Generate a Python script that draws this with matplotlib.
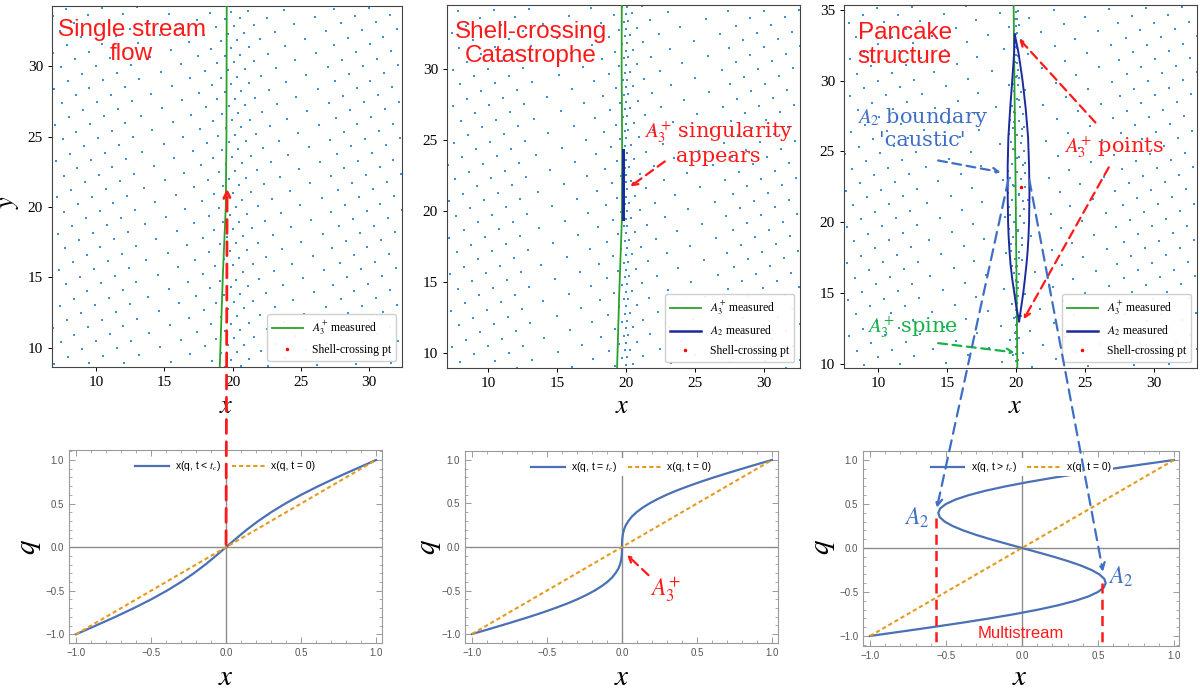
import numpy as np
import matplotlib
matplotlib.use("Agg")
import matplotlib.pyplot as plt
from matplotlib.lines import Line2D
from matplotlib.patches import ConnectionPatch
from matplotlib.ticker import MultipleLocator, FuncFormatter

plt.rcParams["mathtext.fontset"] = "stix"
plt.rcParams["font.family"] = ["Liberation Serif", "DejaVu Serif"]

W, H = 1200, 689

RED = "#ff1a1a"
BLUE_TXT = "#3f6fc4"
GREEN_TXT = "#18b04a"
GREEN = "#2ca02c"
NAVY = "#1c2a9c"
DOT = "#3d8fd6"
CURVE = "#4a70b5"
ORANGE = "#e39b1f"

# ---- bottom row: Lagrangian q against Eulerian x ----
Q_INIT = [-1.0, 1.0]
X_INIT = [-1.0, 1.0]

Q_BEFORE = [-1.0, -0.9, -0.8, -0.7, -0.6, -0.5, -0.4, -0.3, -0.2, -0.1, 0.0,
            0.1, 0.2, 0.3, 0.4, 0.5, 0.6, 0.7, 0.8, 0.9, 1.0]
X_BEFORE = [-1.0, -0.868, -0.738, -0.615, -0.5, -0.395, -0.3, -0.215, -0.138, -0.068, 0.0,
            0.068, 0.138, 0.215, 0.3, 0.395, 0.5, 0.615, 0.738, 0.868, 1.0]

Q_CRIT = [-1.0, -0.95, -0.9, -0.85, -0.8, -0.75, -0.7, -0.65, -0.6, -0.55, -0.5,
          -0.45, -0.4, -0.35, -0.3, -0.25, -0.2, -0.15, -0.1, -0.05, 0.0,
          0.05, 0.1, 0.15, 0.2, 0.25, 0.3, 0.35, 0.4, 0.45, 0.5,
          0.55, 0.6, 0.65, 0.7, 0.75, 0.8, 0.85, 0.9, 0.95, 1.0]
X_CRIT = [-1.0, -0.9, -0.802, -0.706, -0.613, -0.525, -0.443, -0.366, -0.297, -0.236, -0.182,
          -0.136, -0.097, -0.066, -0.043, -0.025, -0.013, -0.006, -0.002, -0.0002, 0.0,
          0.0002, 0.002, 0.006, 0.013, 0.025, 0.043, 0.066, 0.097, 0.136, 0.182,
          0.236, 0.297, 0.366, 0.443, 0.525, 0.613, 0.706, 0.802, 0.9, 1.0]

Q_AFTER = Q_CRIT
X_AFTER = [-1.0, -0.794, -0.591, -0.396, -0.212, -0.043, 0.109, 0.241, 0.351, 0.438, 0.5,
           0.538, 0.551, 0.541, 0.509, 0.457, 0.388, 0.304, 0.209, 0.106, 0.0,
           -0.106, -0.209, -0.304, -0.388, -0.457, -0.509, -0.541, -0.551, -0.538, -0.5,
           -0.438, -0.351, -0.241, -0.109, 0.043, 0.212, 0.396, 0.591, 0.794, 1.0]

# ---- top row: measured lines ----
SPINE1_X = [19.06, 19.28, 19.5, 19.55, 19.57]
SPINE1_Y = [8.65, 15.0, 20.0, 25.0, 34.3]
SPINE2_X = [19.35, 19.5, 19.7, 19.72, 19.68, 19.69]
SPINE2_Y = [8.94, 14.0, 19.5, 24.0, 30.0, 34.5]
SPINE3_X = [20.07, 20.02, 19.95, 19.86, 19.8]
SPINE3_Y = [9.7, 15.0, 22.0, 30.0, 35.35]
A2_SEG_X = [19.78, 19.78]
A2_SEG_Y = [19.4, 24.3]
LENS_Y = [13.0, 14, 15, 16, 17, 18, 19, 20, 22, 24, 26, 28, 30, 32, 33.3]
LENS_LEFT = [20.2, 20.0, 19.85, 19.7, 19.58, 19.5, 19.44, 19.4, 19.37, 19.37, 19.42, 19.55, 19.7, 19.84, 19.88]
LENS_RIGHT = [20.2, 20.35, 20.5, 20.62, 20.73, 20.82, 20.88, 20.92, 20.95, 20.92, 20.85, 20.68, 20.45, 20.15, 19.88]
SHELL_PT = (20.36, 22.5)

# strength of the fold along y for the pancake panel
ENV_Y = [0, 13.0, 18.0, 23.0, 28.0, 33.3, 40]
ENV_V = [0.2, 0.32, 0.6, 0.7, 0.6, 0.32, 0.2]
FLAT_Y = [0, 40]

SPACING = 1.15
ANGLE = np.deg2rad(28)


def px_axes(fig, l, t, r, b):
    return fig.add_axes([l / W, 1 - b / H, (r - l) / W, (b - t) / H])


def push(u, y, q_curve, x_curve, width, env_v, env_y=FLAT_Y):
    # move lateral offsets u through a q -> x map of the given half-width
    qn = np.clip(u / width, -1, 1)
    env = np.interp(y, env_y, env_v)
    return u + (np.interp(qn, q_curve, x_curve) - qn) * env * width


def lattice():
    idx = np.arange(-32, 33)
    i, j = np.meshgrid(idx, idx)
    u = SPACING * (i * np.cos(ANGLE) - j * np.sin(ANGLE))
    y = 21 + SPACING * (i * np.sin(ANGLE) + j * np.cos(ANGLE))
    return u.ravel(), y.ravel()


def draw_dots(ax, u, y):
    ax.scatter(20 + u, y, s=1.7, marker="s", c=DOT, linewidths=0, zorder=1)


def style_top(ax, xlim, ylim, yticks):
    ax.set_xlim(*xlim)
    ax.set_ylim(*ylim)
    ax.set_xticks([10, 15, 20, 25, 30])
    ax.set_yticks(yticks)
    ax.tick_params(labelsize=11, length=3, width=0.7)
    for s in ax.spines.values():
        s.set_color("#444444")
        s.set_linewidth(0.8)


def top_legend(ax, with_a2=True):
    handles = [Line2D([], [], color=GREEN, lw=1.3, label="$A_3^{+}$ measured")]
    if with_a2:
        handles.append(Line2D([], [], color=NAVY, lw=1.8, label="$A_2$ measured"))
    handles.append(Line2D([], [], ls="none", marker=".", ms=3, color="red",
                          label="Shell-crossing pt"))
    ax.legend(handles=handles, loc="lower right", prop={"family": "Liberation Serif", "size": 8.5},
              framealpha=0.92, edgecolor="#cccccc", handlelength=2.6, labelspacing=0.6)


def style_bottom(ax, xlim, ylim):
    ax.set_xlim(*xlim)
    ax.set_ylim(*ylim)
    ticks = [-1.0, -0.5, 0.0, 0.5, 1.0]
    ax.set_xticks(ticks)
    ax.set_yticks(ticks)
    ax.xaxis.set_minor_locator(MultipleLocator(0.1))
    ax.yaxis.set_minor_locator(MultipleLocator(0.1))
    fmt = FuncFormatter(lambda v, _: f"{v:.1f}".replace("-", "\u2212"))
    ax.xaxis.set_major_formatter(fmt)
    ax.yaxis.set_major_formatter(fmt)
    ax.tick_params(which="both", direction="in", top=True, right=True, color="#8a8a8a",
                   labelsize=7, labelcolor="#555555")
    ax.tick_params(which="major", length=4, width=0.6)
    ax.tick_params(which="minor", length=2, width=0.5)
    for lab in ax.get_xticklabels() + ax.get_yticklabels():
        lab.set_family("Liberation Sans")
    for s in ax.spines.values():
        s.set_color("#9a9a9a")
        s.set_linewidth(0.8)
    ax.axhline(0, color="#8c8c8c", lw=1.0, zorder=1)
    ax.axvline(0, color="#8c8c8c", lw=1.0, zorder=1)


def bottom_curves(ax, q, x, label):
    ax.plot(x, q, color=CURVE, lw=1.6, zorder=2, label=label)
    ax.plot(X_INIT, Q_INIT, color=ORANGE, lw=1.5, ls=(0, (2, 1.4)), zorder=2,
            label="x(q, t = 0)")
    leg = ax.legend(loc="upper center", bbox_to_anchor=(0.5, 0.99), ncol=2, frameon=True,
                    facecolor="white", edgecolor="none", framealpha=1,
                    prop={"family": "Liberation Sans", "size": 7.5}, handlelength=3.2,
                    columnspacing=1.0, borderpad=0.2, handletextpad=0.6)
    leg.set_zorder(5)


fig = plt.figure(figsize=(W / 100, H / 100), dpi=100)
fig.patch.set_facecolor("white")

ax1 = px_axes(fig, 52, 6, 402, 367)
ax2 = px_axes(fig, 447, 5, 800, 368)
ax3 = px_axes(fig, 844, 5, 1197, 368)
ax4 = px_axes(fig, 69, 450, 382, 643)
ax5 = px_axes(fig, 465, 451, 778, 643)
ax6 = px_axes(fig, 863, 451, 1179, 646)

# ---- top row ----
style_top(ax1, (6.78, 32.4), (8.65, 34.26), [10, 15, 20, 25, 30])
style_top(ax2, (7.03, 32.6), (8.94, 34.5), [10, 15, 20, 25, 30])
style_top(ax3, (7.5, 33.1), (9.7, 35.35), [10, 15, 20, 25, 30, 35])

u0, y0 = lattice()
draw_dots(ax1, push(u0, y0, Q_BEFORE, X_BEFORE, 7.0, [1.8, 1.8]), y0)
draw_dots(ax2, push(u0, y0, Q_CRIT, X_CRIT, 7.0, [0.95, 0.95]), y0)
u3 = push(u0, y0, Q_CRIT, X_CRIT, 7.0, [0.75, 0.75])
draw_dots(ax3, push(u3, y0, Q_AFTER, X_AFTER, 2.5, ENV_V, ENV_Y), y0)

ax1.plot(SPINE1_X, SPINE1_Y, color=GREEN, lw=1.3, zorder=3)
ax2.plot(SPINE2_X, SPINE2_Y, color=GREEN, lw=1.3, zorder=3)
ax2.plot(A2_SEG_X, A2_SEG_Y, color=NAVY, lw=2.2, zorder=4)
ax3.plot(LENS_LEFT + LENS_RIGHT[::-1], LENS_Y + LENS_Y[::-1], color=NAVY, lw=1.4, zorder=4)
ax3.plot(SPINE3_X, SPINE3_Y, color=GREEN, lw=1.3, zorder=3)
ax3.plot(*SHELL_PT, ls="none", marker=".", ms=3, color="red", zorder=5)

top_legend(ax1, with_a2=False)
top_legend(ax2)
top_legend(ax3)

sans = {"family": "Liberation Sans"}
ax1.text(12.6, 31.7, "Single stream\nflow", color=RED, fontsize=17.5, ha="center", va="center",
         linespacing=1.1, **sans)
ax2.text(13.1, 31.75, "Shell-crossing\nCatastrophe", color=RED, fontsize=17.5, ha="center",
         va="center", linespacing=1.1, **sans)
ax3.text(11.9, 32.5, "Pancake\nstructure", color=RED, fontsize=17.5, ha="center", va="center",
         linespacing=1.1, **sans)

serif = {"family": "DejaVu Serif"}
ax2.text(26.7, 24.8, "$A_3^{+}$ singularity\nappears", color=RED, fontsize=15,
         ha="center", va="center", linespacing=1.1, **serif)
ax2.annotate("", xy=(20.14, 21.6), xytext=(22.97, 23.6),
             arrowprops=dict(arrowstyle="->", color=RED, lw=1.6, ls=(0, (4, 2.5))))

ax3.text(13.2, 26.65, "$A_2$ boundary\n'caustic'", color=BLUE_TXT, fontsize=15,
         ha="center", va="center", linespacing=1.1, **serif)
ax3.annotate("", xy=(19.06, 23.5), xytext=(14.13, 24.4),
             arrowprops=dict(arrowstyle="->", color=BLUE_TXT, lw=1.6, ls=(0, (4, 2.5))))
ax3.text(27.1, 25.3, "$A_3^{+}$ points", color=RED, fontsize=15, ha="center", va="center",
         **serif)
ax3.annotate("", xy=(20.07, 33.1), xytext=(25.87, 26.9),
             arrowprops=dict(arrowstyle="->", color=RED, lw=1.6, ls=(0, (4, 2.5))))
ax3.annotate("", xy=(20.43, 12.97), xytext=(26.8, 24.05),
             arrowprops=dict(arrowstyle="->", color=RED, lw=1.6, ls=(0, (4, 2.5))))
ax3.text(12.46, 12.55, "$A_3^{+}$ spine", color=GREEN_TXT, fontsize=15, ha="center",
         va="center", **serif)
ax3.annotate("", xy=(20.07, 10.78), xytext=(14.13, 11.48),
             arrowprops=dict(arrowstyle="->", color=GREEN_TXT, lw=1.6, ls=(0, (4, 2.5))))

# ---- bottom row ----
style_bottom(ax4, (-1.047, 1.04), (-1.10, 1.115))
style_bottom(ax5, (-1.047, 1.04), (-1.103, 1.103))
style_bottom(ax6, (-1.046, 1.033), (-1.114, 1.102))

bottom_curves(ax4, Q_BEFORE, X_BEFORE, "x(q, t < $t_c$)")
bottom_curves(ax5, Q_CRIT, X_CRIT, "x(q, t = $t_c$)")
bottom_curves(ax6, Q_AFTER, X_AFTER, "x(q, t > $t_c$)")

ax5.text(0.29, -0.49, "$A_3^{+}$", color=RED, fontsize=17, ha="center", va="center")
ax5.annotate("", xy=(0.02, -0.07), xytext=(0.19, -0.345),
             arrowprops=dict(arrowstyle="->", color=RED, lw=1.6, ls=(0, (4, 2.5))))

ax6.text(-0.69, 0.34, "$A_2$", color=BLUE_TXT, fontsize=17, ha="center", va="center")
ax6.text(0.65, -0.33, "$A_2$", color=BLUE_TXT, fontsize=17, ha="center", va="center")
ax6.plot([-0.566, -0.566], [0.34, -1.114], color=RED, lw=1.8, ls=(0, (4, 2.5)), zorder=3)
ax6.plot([0.526, 0.526], [-0.40, -1.114], color=RED, lw=1.8, ls=(0, (4, 2.5)), zorder=3)
ax6.text(-0.01, -0.97, "Multistream", color=RED, fontsize=12, ha="center", va="center", **sans)

# ---- axis labels ----
for cx in (226, 622, 1015):
    fig.text(cx / W, 1 - 407 / H, "$x$", fontsize=19, ha="center", va="center")
for cx in (226, 622, 1020):
    fig.text(cx / W, 1 - 678 / H, "$x$", fontsize=21, ha="center", va="center")
fig.text(10 / W, 1 - 202 / H, "$y$", fontsize=19, ha="center", va="center", rotation=90)
for cx in (30, 430, 824):
    fig.text(cx / W, 1 - 547 / H, "$q$", fontsize=21, ha="center", va="center", rotation=90)

# ---- arrows linking the rows ----
dash = (0, (5, 3))
fig.add_artist(ConnectionPatch(xyA=(0.0, 0.03), coordsA=ax4.transData,
                               xyB=(19.6, 21.3), coordsB=ax1.transData,
                               arrowstyle="->", color=RED, lw=2.0, ls=dash,
                               mutation_scale=12, zorder=10))
fig.add_artist(ConnectionPatch(xyA=(19.42, 23.0), coordsA=ax3.transData,
                               xyB=(-0.56, 0.455), coordsB=ax6.transData,
                               arrowstyle="->", color=BLUE_TXT, lw=1.6, ls=dash,
                               mutation_scale=12, zorder=10))
fig.add_artist(ConnectionPatch(xyA=(20.94, 23.0), coordsA=ax3.transData,
                               xyB=(0.533, -0.27), coordsB=ax6.transData,
                               arrowstyle="->", color=BLUE_TXT, lw=1.6, ls=dash,
                               mutation_scale=12, zorder=10))

fig.savefig("out.png", dpi=100, facecolor="white")
